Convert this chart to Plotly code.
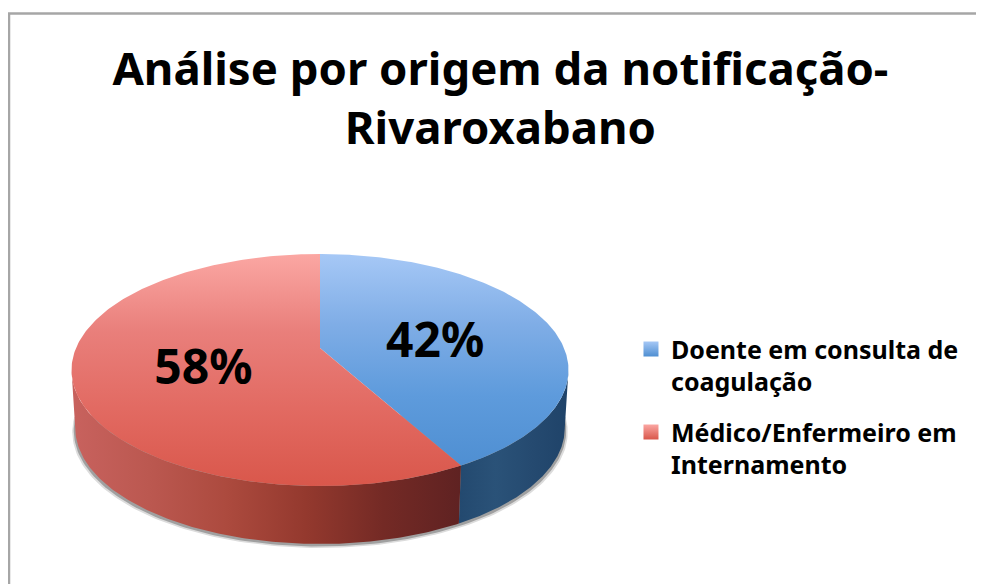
import numpy as np
import plotly.graph_objects as go

TITLE = "Análise por origem da notificação-<br>Rivaroxabano"
CATEGORIES = ["<br>Doente em consulta de<br>coagulação", "<br>Médico/Enfermeiro em<br>Internamento"]
SHARES = [42, 58]

FONT = "Noto Sans"
CX, RX, APEX_Y, A, C, DEPTH = 320.0, 244.0, 348.0, 45.8, -0.1897, 58.0


def project(frac, r=1.0):
    phi = 2 * np.pi * np.asarray(frac)
    u, v = r * np.sin(phi), -r * np.cos(phi)
    d = 1 + C * v
    return CX + RX * u / d, (A * v + APEX_Y) / d


def arc(f0, f1, n=160):
    return project(np.linspace(f0, f1, n))


def scale(stops):
    return [[i / (len(stops) - 1), c] for i, c in enumerate(stops)]


fracs = np.cumsum([0] + SHARES) / sum(SHARES)
fig = go.Figure()

# Soft shadow beneath the disc
sx, sy = arc(0.26, 0.74)
for grow, off, col in [(1.012, 4, "#dcdcdc"), (1.006, 2.5, "#a0a0a0")]:
    xs = CX + (sx - CX) * 0.985 * grow
    ys = sy + DEPTH + off
    fig.add_trace(go.Scatter(x=xs, y=ys, mode="lines", fill="toself", fillcolor=col,
                             line=dict(width=0), hoverinfo="skip", showlegend=False))

# Side walls
rim_start = 0.28
rim_end = 0.72
walls = [
    (rim_start, fracs[1], ["#1f4369", "#254a70", "#2a5278", "#23496f"]),
    (fracs[1], rim_end, ["#c8625e", "#bb5850", "#ac4a3e", "#94392e", "#742a25", "#5f2222"]),
]
for i, (f0, f1, stops) in enumerate(walls):
    tx, ty = arc(f0, f1)
    bx = CX + (tx - CX) * 0.985
    by = ty + DEPTH
    fig.add_trace(go.Scatter(
        x=np.r_[tx, bx[::-1]], y=np.r_[ty, by[::-1]], mode="lines", fill="toself",
        fillgradient=dict(type="horizontal", colorscale=scale(stops if i else stops[::-1])),
        line=dict(width=0), hoverinfo="skip", showlegend=False))

# Top faces
tops = [
    (fracs[0], fracs[1], ["#a6c8f6", "#7fade6", "#5e9bdc", "#4f8fd2"]),
    (fracs[1], fracs[2], ["#fba7a3", "#e97f7b", "#e26a62", "#d9574b"]),
]
for f0, f1, stops in tops:
    ax, ay = arc(f0, f1, 240)
    fig.add_trace(go.Scatter(
        x=np.r_[CX, ax, CX], y=np.r_[APEX_Y, ay, APEX_Y], mode="lines", fill="toself",
        fillgradient=dict(type="vertical", colorscale=scale(stops[::-1])),
        line=dict(width=0), hoverinfo="skip", showlegend=False))

# Percentage labels
mids = (fracs[:-1] + fracs[1:]) / 2
lx, ly = project(mids, 0.49)
fig.add_trace(go.Scatter(
    x=lx + 2, y=ly + 10, mode="text", text=[f"{v}%" for v in SHARES],
    textposition="middle center",
    textfont=dict(family=FONT, size=48, color="black", weight="bold"),
    hoverinfo="skip", showlegend=False))

# Legend entries, one legend per entry so the gap between them can be set freely
for name, c0, c1, lg in zip(CATEGORIES, ["#a6c8f6", "#fba7a3"], ["#4f8fd2", "#d9574b"], ["legend", "legend2"]):
    fig.add_trace(go.Scatter(
        x=[None], y=[None], mode="markers", name=name, legend=lg,
        marker=dict(symbol="square", size=15, color=c0, line=dict(width=0),
                    gradient=dict(type="vertical", color=c1))))

legend_style = dict(x=0.6383, xanchor="left", yanchor="top", bgcolor="rgba(0,0,0,0)",
                    font=dict(family=FONT, size=25, color="black", weight="bold"), itemwidth=30)

fig.update_layout(
    width=976, height=576, autosize=False,
    margin=dict(l=0, r=0, t=0, b=0),
    paper_bgcolor="white", plot_bgcolor="white",
    font=dict(family=FONT, color="black"),
    title=dict(text=TITLE, x=0.5045, xanchor="center", y=0.866, yanchor="top",
               font=dict(family=FONT, size=45.5, color="black", weight="bold")),
    xaxis=dict(range=[8, 984], visible=False, fixedrange=True),
    yaxis=dict(range=[584, 8], visible=False, fixedrange=True),
    legend=dict(y=0.504, **legend_style),
    legend2=dict(y=0.360, **legend_style),
    shapes=[dict(type="path", path="M 9 584 L 9 13.5 L 984 13.5", xref="x", yref="y",
                 line=dict(color="#a6a6a6", width=2.5))],
)
fig.write_html("out.html")
